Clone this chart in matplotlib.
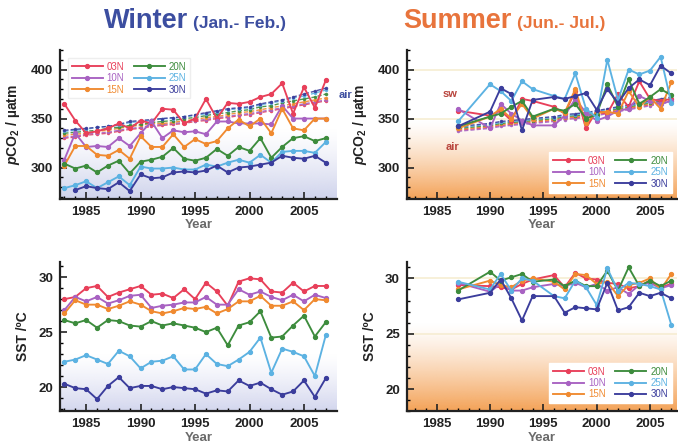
import numpy as np
import matplotlib
matplotlib.use("Agg")
import matplotlib.pyplot as plt
from matplotlib.colors import to_rgb

plt.rcParams['font.family'] = ['Liberation Sans', 'DejaVu Sans']
plt.rcParams['mathtext.fontset'] = 'custom'
plt.rcParams['mathtext.rm'] = 'Liberation Sans:bold'
plt.rcParams['mathtext.it'] = 'Liberation Sans:italic:bold'
plt.rcParams['mathtext.bf'] = 'Liberation Sans:bold'

# ---------------- data ----------------
series = ['03N', '10N', '15N', '20N', '25N', '30N']
colors = ['#e8405a', '#a862c2', '#f08a30', '#3d8c3d', '#5cb2e2', '#3b3d9c']

years_w = [1983, 1984, 1985, 1986, 1987, 1988, 1989, 1990, 1991, 1992, 1993, 1994, 1995,
           1996, 1997, 1998, 1999, 2000, 2001, 2002, 2003, 2004, 2005, 2006, 2007]
years_w30 = years_w[1:]
years_s = [1987, 1990, 1991, 1992, 1993, 1994, 1996, 1997, 1998, 1999, 2000, 2001,
           2002, 2003, 2004, 2005, 2006, 2007]

# Winter seawater pCO2
w_pco2_03N = [365, 348, 335, 337, 340, 345, 340, 348, 345, 360, 359, 345, 350, 370, 350,
              366, 365, 367, 372, 375, 386, 355, 382, 361, 389]
w_pco2_10N = [308, 335, 321, 322, 321, 330, 322, 335, 347, 330, 338, 336, 337, 334, 347,
              347, 345, 345, 345, 344, 363, 350, 350, 350, 350]
w_pco2_15N = [302, 322, 322, 313, 312, 318, 309, 332, 321, 321, 334, 321, 329, 324, 327,
              340, 349, 342, 350, 335, 360, 340, 338, 350, 350]
w_pco2_20N = [304, 299, 302, 295, 302, 307, 294, 306, 308, 311, 320, 309, 307, 310, 319,
              312, 321, 317, 330, 310, 321, 330, 332, 327, 330]
w_pco2_25N = [279, 282, 286, 279, 285, 291, 282, 301, 299, 299, 300, 298, 298, 303, 301,
              305, 308, 305, 313, 305, 316, 317, 317, 315, 326]
w_pco2_30N = [277, 281, 279, 278, 285, 276, 293, 289, 290, 295, 296, 295, 297, 302,
              295, 300, 301, 303, 305, 312, 310, 309, 312, 305]

# Winter air pCO2
w_air_03N = [330, 331, 333, 334, 335, 337, 339, 340, 342, 343, 344, 345, 347, 348, 350,
             351, 353, 354, 356, 358, 360, 362, 364, 366, 368]
w_air_10N = [331, 332, 334, 335, 336, 338, 340, 341, 343, 344, 345, 346, 348, 349, 351,
             352, 354, 355, 357, 359, 361, 363, 365, 367, 369]
w_air_15N = [333, 334, 335, 337, 338, 340, 342, 343, 345, 345, 346, 348, 349, 351, 352,
             354, 356, 357, 359, 361, 363, 365, 367, 369, 371]
w_air_20N = [335, 336, 337, 338, 340, 341, 343, 344, 346, 347, 348, 350, 351, 353, 355,
             356, 358, 359, 362, 363, 366, 368, 370, 372, 375]
w_air_25N = [337, 338, 339, 341, 342, 343, 346, 347, 348, 350, 350, 352, 353, 355, 357,
             359, 360, 361, 364, 366, 368, 371, 373, 376, 379]
w_air_30N = [338, 339, 340, 341, 342, 344, 347, 348, 349, 350, 351, 352, 354, 356, 358,
             360, 361, 362, 365, 367, 369, 372, 375, 378, 381]

# Summer seawater pCO2
s_pco2_03N = [358, 353, 358, 348, 370, 368, 362, 355, 378, 340, 358, 355, 375, 362, 388, 370, 368, 370]
s_pco2_10N = [360, 340, 365, 355, 348, 343, 343, 353, 370, 356, 348, 352, 358, 360, 373, 368, 365, 368]
s_pco2_15N = [340, 352, 360, 350, 365, 350, 360, 356, 380, 345, 356, 357, 355, 378, 362, 372, 360, 387]
s_pco2_20N = [342, 352, 355, 362, 368, 352, 360, 358, 365, 350, 354, 385, 362, 390, 365, 372, 380, 374]
s_pco2_25N = [347, 385, 378, 368, 388, 380, 373, 370, 396, 360, 351, 410, 369, 400, 395, 399, 413, 366]
s_pco2_30N = [342, 357, 381, 375, 338, 369, 372, 370, 373, 376, 359, 380, 366, 381, 390, 384, 404, 396]

# Summer air pCO2
s_air_03N = [338, 341, 343, 344, 345, 346, 348, 350, 351, 352, 354, 356, 358, 360, 362, 364, 366, 368]
s_air_10N = [337, 340, 342, 343, 344, 345, 347, 349, 350, 351, 353, 355, 357, 359, 361, 363, 365, 367]
s_air_15N = [339, 342, 344, 345, 346, 347, 349, 351, 352, 353, 355, 357, 359, 361, 363, 365, 367, 369]
s_air_20N = [340, 343, 345, 346, 347, 348, 350, 352, 353, 354, 356, 358, 360, 362, 364, 366, 368, 370]
s_air_25N = [341, 344, 346, 347, 348, 349, 351, 353, 354, 355, 357, 359, 361, 363, 365, 367, 369, 371]
s_air_30N = [342, 345, 347, 348, 349, 350, 352, 354, 355, 356, 358, 360, 362, 364, 366, 368, 370, 372]

# Winter SST
w_sst_03N = [28.0, 28.2, 29.0, 29.2, 28.2, 28.6, 28.9, 29.2, 28.4, 28.5, 28.1, 28.9, 28.0,
             29.5, 28.7, 27.4, 29.6, 29.9, 29.8, 28.7, 28.6, 29.5, 28.7, 29.2, 29.2]
w_sst_10N = [27.0, 28.2, 27.8, 28.2, 27.6, 27.9, 28.3, 28.4, 27.2, 27.4, 27.5, 27.7, 27.7,
             28.2, 27.5, 27.5, 28.9, 28.4, 28.7, 28.2, 27.9, 28.4, 27.8, 28.4, 28.1]
w_sst_15N = [26.7, 27.9, 27.5, 27.5, 27.1, 27.4, 27.8, 27.5, 26.9, 26.7, 26.9, 27.2, 27.1,
             27.3, 26.7, 27.1, 27.8, 27.8, 28.3, 27.4, 27.4, 27.8, 27.0, 28.0, 27.9]
w_sst_20N = [26.1, 25.8, 26.1, 25.4, 26.1, 26.0, 25.6, 25.5, 26.0, 25.6, 25.8, 25.6, 25.4,
             25.0, 25.4, 23.8, 25.6, 25.9, 26.9, 24.5, 24.6, 25.6, 26.5, 24.6, 25.9]
w_sst_25N = [22.3, 22.5, 22.9, 22.5, 22.1, 23.3, 22.8, 21.7, 22.3, 22.4, 22.8, 21.6, 21.6,
             23.0, 22.1, 21.9, 22.5, 23.2, 24.5, 21.3, 23.5, 23.2, 22.8, 21.0, 24.7]
w_sst_30N = [20.3, 19.9, 19.8, 18.9, 20.1, 20.9, 19.9, 20.1, 20.1, 19.8, 20.0, 19.9, 19.8,
             19.4, 19.7, 19.6, 20.6, 20.1, 20.4, 19.8, 19.3, 19.6, 20.6, 19.1, 20.8]

# Summer SST
s_sst_03N = [29.4, 29.3, 29.2, 29.0, 29.5, 29.9, 30.3, 29.2, 30.5, 30.0, 29.9, 29.6, 29.5, 29.1, 29.3, 29.8, 29.2, 29.5]
s_sst_10N = [29.6, 28.8, 29.5, 28.9, 28.9, 29.2, 29.5, 29.3, 29.6, 29.2, 29.5, 28.9, 29.2, 28.6, 29.4, 29.6, 29.1, 29.4]
s_sst_15N = [29.0, 29.8, 29.4, 29.2, 29.8, 30.0, 29.7, 29.0, 30.4, 30.3, 29.5, 29.7, 28.4, 29.4, 29.6, 30.0, 29.0, 30.4]
s_sst_20N = [28.9, 30.6, 29.8, 30.1, 30.4, 29.7, 29.9, 29.3, 29.8, 29.3, 29.3, 30.7, 28.9, 31.0, 29.3, 29.8, 29.3, 29.8]
s_sst_25N = [29.7, 29.0, 30.4, 28.9, 30.0, 29.8, 28.4, 28.2, 29.8, 29.2, 27.6, 30.9, 28.9, 29.6, 29.5, 29.3, 29.0, 25.8]
s_sst_30N = [28.1, 28.7, 29.9, 28.2, 26.2, 28.4, 28.4, 26.9, 27.4, 27.3, 27.2, 29.6, 27.1, 27.4, 28.7, 28.4, 28.7, 28.2]

x_ticks = [1985, 1990, 1995, 2000, 2005]

# ---------------- figure ----------------
fig = plt.figure(figsize=(6.78, 4.46), dpi=100)
ax_wp = fig.add_axes([0.0885, 0.554, 0.408, 0.334])
ax_sp = fig.add_axes([0.600, 0.554, 0.398, 0.334])
ax_ws = fig.add_axes([0.0885, 0.078, 0.408, 0.335])
ax_ss = fig.add_axes([0.600, 0.078, 0.398, 0.335])


def gradient(ax, color, xlim, y0, y1, amax=1.0):
    n = 256
    img = np.zeros((n, 1, 4))
    img[..., :3] = to_rgb(color)
    img[..., 3] = (np.linspace(1, 0, n) ** 1.3 * amax)[:, None]
    ax.imshow(img, extent=[xlim[0], xlim[1], y0, y1], origin='lower',
              aspect='auto', zorder=0, interpolation='bilinear')


def style(ax, xlim, ylim, yticks, ylabel, minor_y):
    ax.set_xlim(*xlim)
    ax.set_ylim(*ylim)
    for s in ['top', 'right']:
        ax.spines[s].set_visible(False)
    for s in ['left', 'bottom']:
        ax.spines[s].set_linewidth(1.6)
        ax.spines[s].set_color('#222222')
    ax.set_xticks(x_ticks)
    ax.set_xticks(list(range(1983, 2008)), minor=True)
    ax.set_yticks(yticks)
    ax.set_yticks(minor_y, minor=True)
    ax.tick_params(which='major', direction='in', length=5, width=1.2, labelsize=9.5,
                   colors='#222222', pad=5)
    ax.tick_params(which='minor', direction='in', length=2.5, width=1.0)
    for lab in ax.get_xticklabels() + ax.get_yticklabels():
        lab.set_fontweight('bold')
    ax.set_xlabel('Year', fontsize=9.5, color='#6a6a6a', fontweight='bold', labelpad=1)
    ax.set_ylabel(ylabel, fontsize=10, fontweight='bold', color='#222222', labelpad=6)
    ax.set_facecolor('white')


pco2_ylabel = r'$\mathit{p}$CO$_2$ / µatm'
sst_ylabel = 'SST /ºC'
LW = 1.35
MS = 2.8

leg_kw = dict(ncol=2, fontsize=7, labelcolor='linecolor', frameon=True, framealpha=1,
              handlelength=3.2, handletextpad=0.4, columnspacing=1.0,
              labelspacing=0.15, borderpad=0.4, fancybox=False)

# ---- Winter pCO2 ----
xl_w = (1982.6, 2008.0)
gradient(ax_wp, '#cfd3ec', xl_w, 268, 340)
w_sw = [w_pco2_03N, w_pco2_10N, w_pco2_15N, w_pco2_20N, w_pco2_25N, w_pco2_30N]
w_air = [w_air_03N, w_air_10N, w_air_15N, w_air_20N, w_air_25N, w_air_30N]
handles = []
for i, c in enumerate(colors):
    ax_wp.plot(years_w, w_air[i], color=c, lw=1.0, ls=(0, (3, 1.5)), marker='o', ms=1.5,
               alpha=0.9, zorder=2)
for i, (name, c) in enumerate(zip(series, colors)):
    yrs = years_w30 if name == '30N' else years_w
    h, = ax_wp.plot(yrs, w_sw[i], color=c, lw=LW, marker='o', ms=MS, zorder=3, label=name)
    handles.append(h)
style(ax_wp, xl_w, (268, 420), [300, 350, 400], pco2_ylabel, list(range(270, 421, 10)))
ax_wp.legend(handles=handles, loc='upper left', bbox_to_anchor=(0.01, 0.98),
             edgecolor='#eeeeee', **leg_kw)
ax_wp.text(2008.2, 374, 'air', color='#3c4ea0', fontsize=8, fontweight='bold',
           va='center', ha='left', clip_on=False)

# ---- Summer pCO2 ----
xl_s = (1982.2, 2007.5)
gradient(ax_sp, '#f4a257', xl_s, 268, 348)
for yv in [350, 400]:
    ax_sp.axhline(yv, color='#f6edd2', lw=1.2, zorder=1)
s_sw = [s_pco2_03N, s_pco2_10N, s_pco2_15N, s_pco2_20N, s_pco2_25N, s_pco2_30N]
s_air = [s_air_03N, s_air_10N, s_air_15N, s_air_20N, s_air_25N, s_air_30N]
handles = []
for i, c in enumerate(colors):
    ax_sp.plot(years_s, s_air[i], color=c, lw=1.0, ls=(0, (3, 1.5)), marker='o', ms=1.5,
               alpha=0.9, zorder=2)
for i, (name, c) in enumerate(zip(series, colors)):
    h, = ax_sp.plot(years_s, s_sw[i], color=c, lw=LW, marker='o', ms=MS, zorder=3, label=name)
    handles.append(h)
style(ax_sp, xl_s, (268, 420), [300, 350, 400], pco2_ylabel, list(range(270, 421, 10)))
ax_sp.legend(handles=handles, loc='lower right', bbox_to_anchor=(1.0, 0.01),
             edgecolor='#ffffff', **leg_kw)
ax_sp.text(1986.3, 375, 'sw', color='#b8443c', fontsize=8, fontweight='bold', ha='center', va='center')
ax_sp.text(1986.5, 321, 'air', color='#b8443c', fontsize=8, fontweight='bold', ha='center', va='center')

# ---- Winter SST ----
gradient(ax_ws, '#d3d6ee', xl_w, 17.8, 23.0)
w_sst = [w_sst_03N, w_sst_10N, w_sst_15N, w_sst_20N, w_sst_25N, w_sst_30N]
for i, c in enumerate(colors):
    ax_ws.plot(years_w, w_sst[i], color=c, lw=LW, marker='o', ms=MS, zorder=3)
style(ax_ws, xl_w, (17.8, 31.4), [20, 25, 30], sst_ylabel, list(range(18, 32)))

# ---- Summer SST ----
gradient(ax_ss, '#f4a257', xl_s, 18.0, 26.0)
for yv in [25, 30]:
    ax_ss.axhline(yv, color='#f6edd2', lw=1.2, zorder=1)
s_sst = [s_sst_03N, s_sst_10N, s_sst_15N, s_sst_20N, s_sst_25N, s_sst_30N]
handles = []
for i, (name, c) in enumerate(zip(series, colors)):
    h, = ax_ss.plot(years_s, s_sst[i], color=c, lw=LW, marker='o', ms=MS, zorder=3, label=name)
    handles.append(h)
style(ax_ss, xl_s, (18.0, 31.5), [20, 25, 30], sst_ylabel, list(range(18, 32)))
ax_ss.legend(handles=handles, loc='lower right', bbox_to_anchor=(1.0, 0.02),
             edgecolor='#ffffff', **leg_kw)

# ---- titles ----
fig.text(0.278, 0.952, 'Winter', color='#3c4ea0', fontsize=19.5, fontweight='bold',
         ha='right', va='center')
fig.text(0.285, 0.947, '(Jan.- Feb.)', color='#3c4ea0', fontsize=12.5, fontweight='bold',
         ha='left', va='center')
fig.text(0.755, 0.952, 'Summer', color='#e8743c', fontsize=19.5, fontweight='bold',
         ha='right', va='center')
fig.text(0.762, 0.947, '(Jun.- Jul.)', color='#e8743c', fontsize=12.5, fontweight='bold',
         ha='left', va='center')

fig.savefig('out.png', dpi=100)
